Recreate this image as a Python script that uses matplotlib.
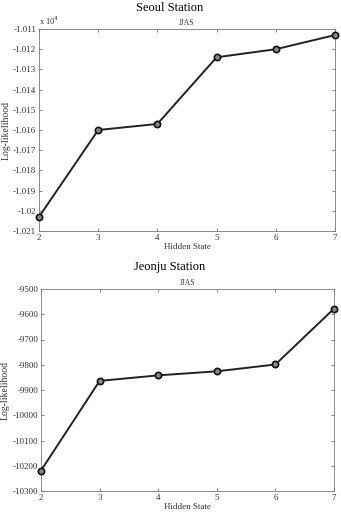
import matplotlib.pyplot as plt
from matplotlib.ticker import FuncFormatter

plt.rcParams['font.family'] = ['Liberation Serif', 'DejaVu Serif']
plt.rcParams['axes.unicode_minus'] = False

hidden_states = [2, 3, 4, 5, 6, 7]
seoul_ll = [-10203, -10160, -10157, -10124, -10120, -10113]
jeonju_ll = [-10219, -9864, -9842, -9826, -9799, -9578]

seoul_yticks = [-1.021, -1.020, -1.019, -1.018, -1.017, -1.016, -1.015, -1.014, -1.013, -1.012, -1.011]
jeonju_yticks = [-10300, -10200, -10100, -10000, -9900, -9800, -9700, -9600, -9500]

W, H = 341, 514
fig = plt.figure(figsize=(W / 100, H / 100), dpi=100)


def style_axes(ax):
    ax.set_xlim(2, 7)
    ax.set_xticks(hidden_states)
    ax.tick_params(direction='in', top=True, right=True, labelsize=6.5,
                   length=2.5, width=0.5, colors='#555555', labelcolor='#333333', pad=2)
    for s in ax.spines.values():
        s.set_linewidth(0.6)
        s.set_color('#777777')
    ax.set_xlabel('Hidden State', fontsize=6.5, labelpad=1, color='#333333')
    ax.set_ylabel('Log-likelihood', fontsize=7, labelpad=2, color='#333333')


def draw(ax, y):
    ax.plot(hidden_states, y, color='#222222', lw=1.4, marker='o', ms=4.5,
            mfc='#888888', mec='#111111', mew=1.2, clip_on=False, zorder=3)


# Seoul
ax1 = fig.add_axes([39 / W, 1 - 231 / H, (335 - 39) / W, (231 - 29) / H])
draw(ax1, [v / 1e4 for v in seoul_ll])
ax1.set_ylim(-1.021, -1.011)
ax1.set_yticks(seoul_yticks)
ax1.yaxis.set_major_formatter(FuncFormatter(lambda v, p: '%g' % round(v, 4)))
style_axes(ax1)
ax1.set_title('JJAS', fontsize=5.5, pad=3, color='#333333')
ax1.text(0.0, 1.01, r'x 10$^4$', transform=ax1.transAxes, fontsize=6, va='bottom',
         ha='left', color='#333333')
fig.text(170 / W, 1 - 8 / H, 'Seoul Station', fontsize=9, ha='center', va='center')

# Jeonju
ax2 = fig.add_axes([41 / W, 1 - 491 / H, (334 - 41) / W, (491 - 289) / H])
draw(ax2, jeonju_ll)
ax2.set_ylim(-10300, -9500)
ax2.set_yticks(jeonju_yticks)
style_axes(ax2)
ax2.set_title('JJAS', fontsize=5.5, pad=3, color='#333333')
fig.text(170 / W, 1 - 267 / H, 'Jeonju Station', fontsize=9, ha='center', va='center')

fig.savefig('out.png', dpi=100)
